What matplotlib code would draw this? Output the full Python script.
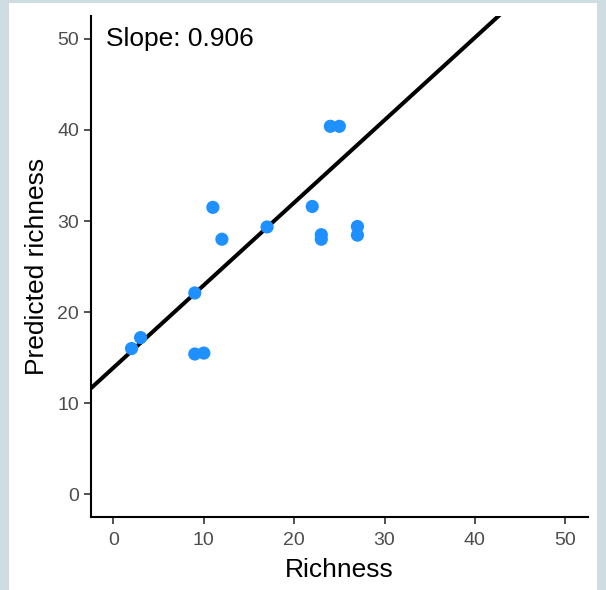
import matplotlib.pyplot as plt
from matplotlib.patches import Rectangle

plt.rcParams['font.family'] = ['Liberation Sans', 'DejaVu Sans']

# observed vs predicted richness
richness = [2, 3, 9, 9, 10, 11, 12, 17, 22, 23, 23, 24, 25, 27, 27]
predicted = [16.0, 17.2, 22.1, 15.4, 15.5, 31.5, 28.0, 29.35, 31.6, 28.5, 28.0, 40.4, 40.4, 29.4, 28.45]
slope = 0.906
intercept = 13.9
ticks = [0, 10, 20, 30, 40, 50]

fig = plt.figure(figsize=(6.06, 5.90), dpi=100)
fig.patch.set_facecolor('#cfdce1')
fig.patches.append(Rectangle((9 / 606, 0), 588 / 606, 587 / 590, transform=fig.transFigure,
                             facecolor='white', edgecolor='none', zorder=-1))

ax = fig.add_axes([0.150, 0.1237, 0.820, 0.849])
ax.set_facecolor('white')
ax.scatter(richness, predicted, s=90, color='#1E90FF', edgecolors='none', zorder=3)
ax.axline((0, intercept), slope=slope, color='black', lw=2.9, zorder=2)

ax.set_xlim(-2.5, 52.5)
ax.set_ylim(-2.5, 52.5)
ax.set_xticks(ticks)
ax.set_yticks(ticks)
ax.tick_params(labelsize=14, colors='#333333', labelcolor='#4d4d4d', length=5, width=1.2)
ax.tick_params(axis='x', pad=6)
for side in ['top', 'right']:
    ax.spines[side].set_visible(False)
for side in ['left', 'bottom']:
    ax.spines[side].set_linewidth(1.5)

ax.set_xlabel('Richness', fontsize=19, labelpad=6)
ax.set_ylabel('Predicted richness', fontsize=19, labelpad=6)
ax.text(-0.8, 50, f'Slope: {slope}', fontsize=19, ha='left', va='center')

fig.savefig('out.png', dpi=100, facecolor=fig.get_facecolor())
